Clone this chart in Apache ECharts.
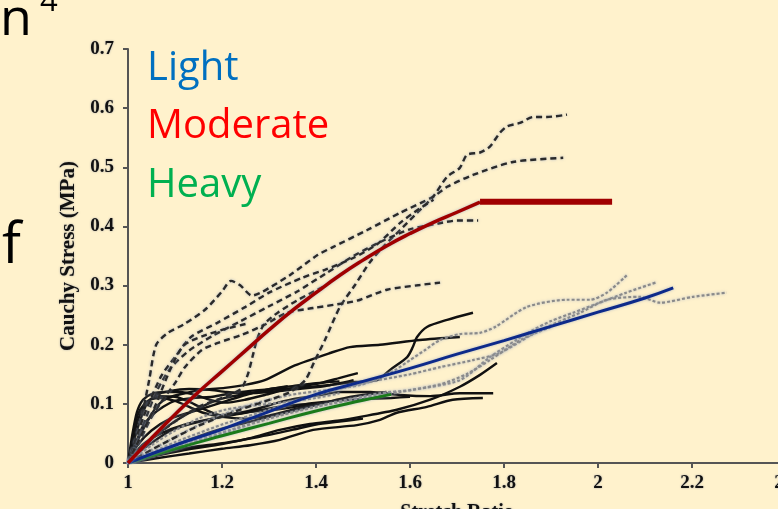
<!DOCTYPE html>
<html><head><meta charset="utf-8">
<script src="https://cdn.jsdelivr.net/npm/echarts@6/dist/echarts.min.js"></script>
<style>html,body{margin:0;padding:0;background:#FFF2CC;overflow:hidden}#c{width:778px;height:509px}</style>
</head><body><div id="c"></div>
<script>
// ---- fitted mean curves ----
const lightFit = [[1,0],[1.1,0.03],[1.2,0.057],[1.3,0.087],[1.4,0.116],[1.5,0.138],[1.6,0.16],[1.7,0.184],[1.8,0.207],[1.9,0.231],[2.0,0.255],[2.1,0.279],[2.16,0.296]];
const moderateFit = [[1,0],[1.05,0.042],[1.1,0.082],[1.15,0.12],[1.2,0.155],[1.25,0.19],[1.3,0.225],[1.35,0.258],[1.4,0.288],[1.45,0.317],[1.5,0.343],[1.55,0.367],[1.6,0.388],[1.65,0.407],[1.7,0.424],[1.749,0.441]];
const heavyFit = [[1,0],[1.1,0.024],[1.2,0.046],[1.3,0.067],[1.4,0.088],[1.5,0.106],[1.56,0.116]];
const pointer = [[1.749,0.4416],[2.03,0.4416]];

// ---- moderate specimens (dashed) ----
const modA = [[1,0],[1.017,0.03],[1.03,0.08],[1.045,0.14],[1.06,0.2],[1.085,0.22],[1.12,0.235],[1.165,0.26],[1.2,0.29],[1.219,0.308],[1.238,0.301],[1.264,0.283],[1.285,0.289],[1.345,0.318],[1.404,0.352],[1.436,0.365],[1.509,0.394],[1.579,0.423],[1.649,0.45],[1.679,0.467],[1.734,0.487],[1.819,0.509],[1.926,0.516]];
const modB = [[1,0],[1.068,0.03],[1.153,0.064],[1.238,0.09],[1.302,0.107],[1.345,0.12],[1.377,0.14],[1.398,0.174],[1.419,0.208],[1.451,0.264],[1.483,0.301],[1.515,0.34],[1.547,0.369],[1.579,0.394],[1.615,0.423],[1.649,0.45],[1.679,0.484],[1.706,0.499],[1.721,0.521],[1.749,0.525],[1.77,0.535],[1.791,0.558],[1.806,0.569],[1.834,0.575],[1.862,0.585],[1.891,0.585],[1.934,0.589]];
const modC = [[1,0],[1.021,0.03],[1.047,0.073],[1.074,0.107],[1.1,0.135],[1.121,0.162],[1.157,0.191],[1.191,0.203],[1.243,0.217],[1.291,0.234],[1.338,0.254],[1.394,0.262],[1.466,0.271],[1.494,0.276],[1.551,0.293],[1.621,0.301],[1.664,0.305]];
const modD = [[1,0],[1.02,0.04],[1.04,0.08],[1.06,0.12],[1.09,0.16],[1.13,0.19],[1.18,0.215],[1.24,0.24],[1.3,0.265],[1.36,0.29],[1.42,0.32],[1.48,0.35],[1.54,0.375],[1.6,0.395],[1.66,0.405],[1.7,0.41],[1.745,0.41]];
const modE = [[1,0],[1.034,0.08],[1.07,0.146],[1.1,0.179],[1.134,0.213],[1.19,0.237],[1.25,0.264],[1.3,0.288],[1.37,0.313],[1.42,0.327],[1.48,0.347],[1.53,0.37],[1.579,0.406],[1.62,0.43],[1.65,0.445]];
const modF = [[1,0],[1.05,0.04],[1.1,0.07],[1.15,0.095],[1.2,0.11],[1.24,0.125],[1.255,0.15],[1.265,0.18],[1.275,0.21],[1.29,0.235],[1.32,0.255],[1.36,0.275],[1.42,0.3]];
const modG = [[1,0],[1.03,0.05],[1.06,0.1],[1.08,0.14],[1.1,0.175],[1.12,0.2],[1.16,0.215],[1.2,0.225],[1.25,0.235]];

// ---- light specimens (grey dotted) ----
const litA = [[1,0],[1.089,0.039],[1.174,0.073],[1.26,0.098],[1.345,0.115],[1.43,0.124],[1.494,0.132],[1.536,0.144],[1.568,0.157],[1.6,0.174],[1.632,0.191],[1.664,0.208],[1.706,0.218],[1.749,0.22],[1.781,0.23],[1.849,0.264],[1.934,0.276],[1.983,0.276],[2.019,0.288],[2.062,0.318]];
const litB = [[1,0],[1.111,0.03],[1.217,0.056],[1.323,0.081],[1.43,0.101],[1.536,0.118],[1.606,0.124],[1.706,0.14],[1.77,0.179],[1.83,0.21],[1.862,0.225],[1.9,0.24],[1.947,0.254],[2.0,0.27],[2.06,0.288],[2.126,0.306]];
const litC = [[1,0],[1.1,0.035],[1.2,0.065],[1.3,0.09],[1.4,0.115],[1.5,0.135],[1.6,0.15],[1.664,0.162],[1.734,0.174],[1.791,0.186],[1.877,0.225],[1.962,0.254],[2.019,0.276],[2.089,0.281],[2.132,0.271],[2.202,0.281],[2.274,0.288]];
const litD = [[1,0],[1.1,0.025],[1.2,0.05],[1.3,0.075],[1.4,0.095],[1.5,0.11],[1.579,0.12],[1.664,0.133],[1.72,0.15],[1.77,0.174],[1.84,0.21],[1.9,0.23]];
const litE = [[1,0],[1.05,0.03],[1.1,0.055],[1.15,0.075],[1.206,0.09],[1.277,0.098],[1.334,0.103],[1.4,0.11],[1.45,0.118]];

// ---- heavy specimens (solid black) ----
const hvyA = [[1,0],[1.009,0.047],[1.019,0.086],[1.032,0.107],[1.051,0.117],[1.079,0.12],[1.111,0.12],[1.143,0.115],[1.174,0.107],[1.206,0.102],[1.249,0.107],[1.291,0.115],[1.334,0.124],[1.366,0.129],[1.409,0.135],[1.451,0.144],[1.489,0.152]];
const hvyB = [[1,0],[1.015,0.056],[1.03,0.09],[1.047,0.107],[1.068,0.113],[1.1,0.112],[1.132,0.103],[1.164,0.09],[1.196,0.081],[1.238,0.085],[1.281,0.093],[1.323,0.103],[1.366,0.11],[1.409,0.115],[1.451,0.12],[1.515,0.12],[1.579,0.115],[1.643,0.113],[1.706,0.118],[1.777,0.118]];
const hvyC = [[1,0],[1.021,0.039],[1.043,0.073],[1.064,0.098],[1.085,0.11],[1.121,0.118],[1.164,0.124],[1.206,0.127],[1.249,0.132],[1.291,0.14],[1.355,0.165],[1.43,0.186],[1.472,0.196],[1.536,0.2],[1.621,0.208],[1.706,0.213]];
const hvyD = [[1,0],[1.036,0.03],[1.079,0.059],[1.121,0.081],[1.164,0.098],[1.206,0.11],[1.26,0.118],[1.313,0.124],[1.366,0.127],[1.43,0.132],[1.483,0.137],[1.53,0.14],[1.557,0.157],[1.594,0.179],[1.606,0.196],[1.615,0.213],[1.636,0.23],[1.679,0.242],[1.734,0.254]];
const hvyE = [[1,0],[1.06,0.012],[1.12,0.022],[1.2,0.032],[1.26,0.042],[1.323,0.056],[1.387,0.066],[1.45,0.072],[1.494,0.078],[1.572,0.09],[1.643,0.107],[1.706,0.129],[1.749,0.149],[1.785,0.169]];
const hvyF = [[1,0],[1.06,0.008],[1.13,0.016],[1.2,0.024],[1.26,0.03],[1.323,0.039],[1.394,0.056],[1.487,0.064],[1.536,0.073],[1.572,0.085],[1.636,0.095],[1.691,0.107],[1.755,0.11]];
const hvyG = [[1,0],[1.03,0.03],[1.07,0.05],[1.12,0.065],[1.18,0.075],[1.25,0.085],[1.32,0.095],[1.38,0.1],[1.44,0.105],[1.5,0.108],[1.56,0.11],[1.6,0.112]];
const hvyH = [[1,0],[1.02,0.03],[1.05,0.055],[1.09,0.075],[1.13,0.085],[1.17,0.095],[1.21,0.105],[1.25,0.115],[1.3,0.125],[1.35,0.13],[1.4,0.135],[1.45,0.138]];
const hvyI = [[1,0],[1.05,0.015],[1.1,0.03],[1.15,0.045],[1.2,0.058],[1.25,0.068],[1.3,0.078],[1.35,0.088],[1.4,0.098],[1.45,0.108],[1.5,0.115],[1.55,0.12]];
const hvyJ = [[1,0],[1.01,0.04],[1.02,0.08],[1.035,0.1],[1.05,0.108],[1.07,0.11],[1.1,0.105],[1.13,0.095],[1.16,0.085],[1.2,0.078],[1.25,0.075],[1.3,0.08],[1.35,0.09],[1.4,0.1]];
const hvyK = [[1,0],[1.015,0.03],[1.03,0.06],[1.05,0.08],[1.075,0.095],[1.1,0.105],[1.14,0.11],[1.18,0.112],[1.22,0.118],[1.26,0.122],[1.3,0.125],[1.34,0.13]];
const hvyL = [[1,0],[1.01,0.03],[1.025,0.07],[1.04,0.1],[1.06,0.115],[1.09,0.122],[1.13,0.125],[1.17,0.124],[1.21,0.12],[1.25,0.118],[1.3,0.12],[1.36,0.125],[1.42,0.13],[1.48,0.14]];
const hvyM = [[1,0],[1.064,0.017],[1.136,0.027],[1.206,0.034],[1.277,0.044],[1.349,0.056],[1.4,0.065],[1.45,0.07],[1.5,0.075]];
const hvyN = [[1,0],[1.021,0.017],[1.094,0.056],[1.17,0.073],[1.243,0.085],[1.313,0.09],[1.355,0.095],[1.4,0.1]];

const moderateSet = [modA, modB, modC, modD, modE, modF, modG];
const lightSet = [litA, litB, litC, litD, litE];
const heavySet = [hvyA, hvyB, hvyC, hvyD, hvyE, hvyF, hvyG, hvyH, hvyI, hvyJ, hvyK, hvyL, hvyM, hvyN];

const legendLabels = ['Light', 'Moderate', 'Heavy'];

const chart = echarts.init(document.getElementById('c'), null, {renderer: 'canvas'});
const halo = {shadowBlur: 3, shadowColor: 'rgba(150,165,195,0.75)'};
const series = [];
heavySet.forEach(d => series.push({type: 'line', data: d, showSymbol: false, smooth: 0.25, silent: true,
  lineStyle: {color: '#111', width: 2.4}}));
lightSet.forEach(d => series.push({type: 'line', data: d, showSymbol: false, smooth: 0.25, silent: true,
  lineStyle: Object.assign({color: '#8a8a8a', width: 2.2, type: [3, 2]}, halo)}));
moderateSet.forEach(d => series.push({type: 'line', data: d, showSymbol: false, smooth: 0.25, silent: true,
  lineStyle: Object.assign({color: '#2a2a2a', width: 2.4, type: [6, 4]}, halo)}));
series.push({type: 'line', data: heavyFit, showSymbol: false, smooth: true, silent: true,
  lineStyle: Object.assign({color: '#1a7a1a', width: 3}, halo)});
series.push({type: 'line', data: lightFit, showSymbol: false, smooth: true, silent: true,
  lineStyle: Object.assign({color: '#0d2a8a', width: 3}, halo)});
series.push({type: 'line', data: moderateFit, showSymbol: false, smooth: true, silent: true,
  lineStyle: Object.assign({color: '#a00000', width: 3.5}, halo)});
series.push({type: 'line', data: pointer, showSymbol: false, silent: true, clip: false,
  lineStyle: {color: '#a00000', width: 6, cap: 'butt'}});

const serif = 'Liberation Serif';
const labelHalo = {textShadowColor: 'rgba(120,130,150,0.7)', textShadowBlur: 2};
chart.setOption({
  backgroundColor: '#FFF2CC',
  animation: false,
  grid: {left: 128, top: 49, width: 658, height: 414, outerBoundsMode: 'none', containLabel: false},
  xAxis: {
    type: 'value', min: 1, max: 2.4, interval: 0.2,
    name: 'Stretch Ratio', nameLocation: 'middle', nameGap: 40,
    nameTextStyle: Object.assign({fontFamily: serif, fontWeight: 'bold', fontSize: 20, color: '#111'}, labelHalo),
    axisLine: {show: true, lineStyle: {color: '#555', width: 2}},
    axisTick: {show: true, length: 5, lineStyle: {color: '#555', width: 2}},
    axisLabel: Object.assign({fontFamily: serif, fontWeight: 'bold', fontSize: 19, color: '#111', margin: 11}, labelHalo),
    splitLine: {show: false}
  },
  yAxis: {
    type: 'value', min: 0, max: 0.7, interval: 0.1,
    name: 'Cauchy Stress (MPa)', nameLocation: 'middle', nameGap: 44,
    nameTextStyle: Object.assign({fontFamily: serif, fontWeight: 'bold', fontSize: 21, color: '#111'}, labelHalo),
    axisLine: {show: true, lineStyle: {color: '#555', width: 2}},
    axisTick: {show: true, length: 5, lineStyle: {color: '#555', width: 2}},
    axisLabel: Object.assign({fontFamily: serif, fontWeight: 'bold', fontSize: 19, color: '#111', margin: 14}, labelHalo),
    splitLine: {show: false}
  },
  series: series,
  graphic: [
    {type: 'text', silent: true, style: {text: 'n', x: 0, y: 20, fontFamily: 'Open Sans', fontSize: 52, fill: '#000', verticalAlign: 'middle'}},
    {type: 'text', silent: true, style: {text: '4', x: 40, y: 2, fontFamily: 'Open Sans', fontSize: 31, fill: '#000', verticalAlign: 'middle'}},
    {type: 'text', silent: true, style: {text: 'f', x: 2, y: 247, fontFamily: 'Open Sans', fontSize: 56, fill: '#000', verticalAlign: 'middle'}},
    {type: 'text', silent: true, style: {text: legendLabels[0], x: 147, y: 69, fontFamily: 'Open Sans', fontSize: 40, fill: '#0070C0', verticalAlign: 'middle'}},
    {type: 'text', silent: true, style: {text: legendLabels[1], x: 147, y: 127, fontFamily: 'Open Sans', fontSize: 40, fill: '#FF0000', verticalAlign: 'middle'}},
    {type: 'text', silent: true, style: {text: legendLabels[2], x: 147, y: 186, fontFamily: 'Open Sans', fontSize: 40, fill: '#00B050', verticalAlign: 'middle'}}
  ]
});
</script></body></html>
